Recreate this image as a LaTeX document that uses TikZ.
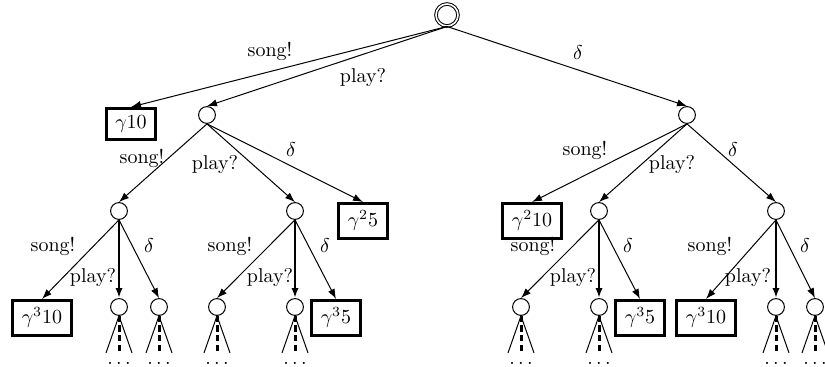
\documentclass[tikz,border=0pt]{standalone}
\usetikzlibrary{arrows.meta}
\begin{document}
\begin{tikzpicture}[x=0.5pt,y=-0.5pt,
  state/.style={circle,draw,line width=0.5pt,minimum size=8.4pt,inner sep=0pt},
  start/.style={circle,draw,line width=0.5pt,double,double distance=0.8pt,minimum size=11pt,inner sep=0pt},
  payoff/.style={draw,line width=1.5pt,inner xsep=4.6pt,inner ysep=3.6pt,anchor=north},
  trans/.style={-{Latex[length=5pt,width=3.6pt]},line width=0.5pt},
  transbold/.style={trans,line width=1.4pt},
  lbl/.style={inner sep=0pt},
  fan/.style={line width=0.5pt},
  hidden/.style={line width=1.5pt,dash pattern=on 3.2pt off 1.6pt},
  more/.style={inner sep=0pt}]
\useasboundingbox (0,0) rectangle (825,367);

% root
\node[start] (r) at (447,15) {};

% first level
\node[payoff] (g10) at (131,107) {$\gamma 10$};
\node[state] (p) at (207,115) {};
\node[state] (d) at (687,115) {};

% second level
\node[state] (ps) at (119,211) {};
\node[state] (pp) at (295,211) {};
\node[payoff] (pd) at (363,202) {$\gamma^2 5$};
\node[payoff] (ds) at (532,202) {$\gamma^2 10$};
\node[state] (dp) at (599,211) {};
\node[state] (dd) at (776,211) {};

% third level
\node[payoff] (pss) at (42,299) {$\gamma^3 10$};
\node[state] (psp) at (119,307) {};
\node[state] (psd) at (159,307) {};
\node[state] (pps) at (217,307) {};
\node[state] (ppp) at (295,307) {};
\node[payoff] (ppd) at (336,299) {$\gamma^3 5$};
\node[state] (dps) at (521,307) {};
\node[state] (dpp) at (599,307) {};
\node[payoff] (dpd) at (640,299) {$\gamma^3 5$};
\node[payoff] (dds) at (706,299) {$\gamma^3 10$};
\node[state] (ddp) at (776,307) {};
\node[state] (ddd) at (815,307) {};

% transitions
\draw[trans] (r.south) -- (g10.north);
\draw[trans] (r.south) -- (p.north);
\draw[trans] (r.south) -- (d.north);

\draw[trans] (p.south) -- (ps.north);
\draw[trans] (p.south) -- (pp.north);
\draw[trans] (p.south) -- (pd.north);
\draw[trans] (d.south) -- (ds.north);
\draw[trans] (d.south) -- (dp.north);
\draw[trans] (d.south) -- (dd.north);

\draw[trans] (ps.south) -- (pss.north);
\draw[transbold] (ps.south) -- (psp.north);
\draw[trans] (ps.south) -- (psd.north);
\draw[trans] (pp.south) -- (pps.north);
\draw[transbold] (pp.south) -- (ppp.north);
\draw[trans] (pp.south) -- (ppd.north);
\draw[trans] (dp.south) -- (dps.north);
\draw[transbold] (dp.south) -- (dpp.north);
\draw[trans] (dp.south) -- (dpd.north);
\draw[trans] (dd.south) -- (dds.north);
\draw[transbold] (dd.south) -- (ddp.north);
\draw[trans] (dd.south) -- (ddd.north);

% action labels
\node[lbl] (l1) at (270,51) {song!};
\node[lbl] (l2) at (363,78) {play?};
\node[lbl] (l3) at (578,53) {$\delta$};

\node[lbl] (l4) at (142,158) {song!};
\node[lbl] (l5) at (215,165) {play?};
\node[lbl] (l6) at (291,150) {$\delta$};
\node[lbl] (l7) at (585,150) {song!};
\node[lbl] (l8) at (672,165) {play?};
\node[lbl] (l9) at (733,150) {$\delta$};

\node[lbl] (l10) at (53,246) {song!};
\node[lbl] (l11) at (93,278) {play?};
\node[lbl] (l12) at (149,246) {$\delta$};
\node[lbl] (l13) at (230,246) {song!};
\node[lbl] (l14) at (270,278) {play?};
\node[lbl] (l15) at (325,246) {$\delta$};
\node[lbl] (l16) at (533,246) {song!};
\node[lbl] (l17) at (573,278) {play?};
\node[lbl] (l18) at (628,246) {$\delta$};
\node[lbl] (l19) at (710,246) {song!};
\node[lbl] (l20) at (748,278) {play?};
\node[lbl] (l21) at (805,246) {$\delta$};

% unexpanded subtrees
\foreach \n in {psp,psd,pps,ppp,dps,dpp,ddp,ddd}{
  \path (\n.south) ++(-13,37) coordinate (\n-l);
  \path (\n.south) ++(13,37) coordinate (\n-r);
  \path (\n.south) ++(0,37) coordinate (\n-m);
  \draw[fan] (\n-l) -- (\n.south) -- (\n-r);
  \draw[hidden] (\n.south) -- (\n-m);
  \path (\n) ++(0,56) node[more] (\n-dots) {$\dots$};
}
\end{tikzpicture}
\end{document}
